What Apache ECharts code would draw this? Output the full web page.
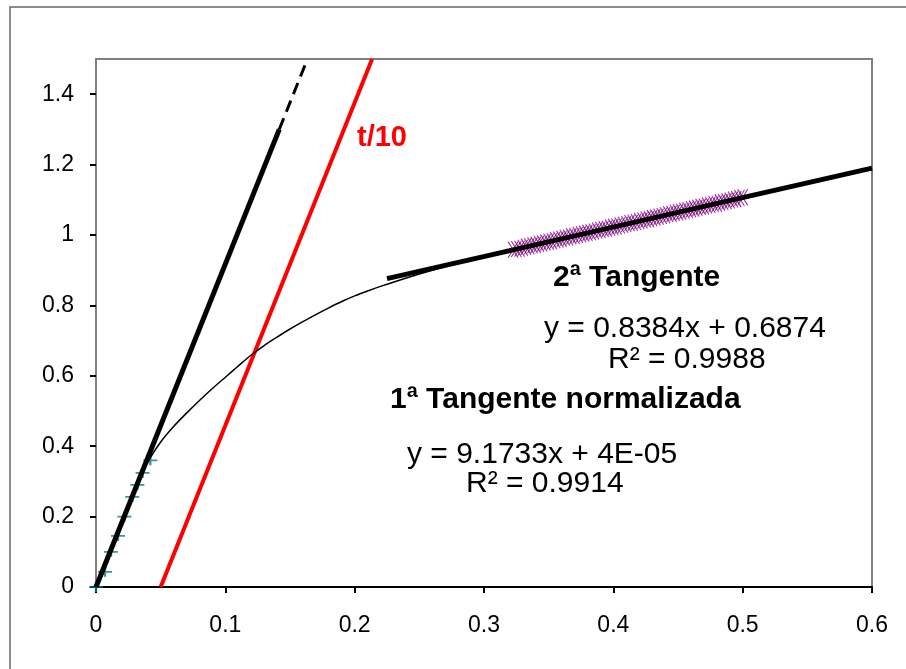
<!DOCTYPE html>
<html>
<head>
<meta charset="utf-8">
<script src="https://cdn.jsdelivr.net/npm/echarts@6/dist/echarts.min.js"></script>
<style>
  html, body { margin: 0; padding: 0; background: #fff; }
  #chart { width: 906px; height: 669px; }
</style>
</head>
<body>
<div id="chart"></div>
<script>
// curva experimental (normalizada)
const curveX = [0, 0.01, 0.02, 0.03, 0.04, 0.05, 0.06, 0.07, 0.08, 0.09, 0.10, 0.11, 0.12, 0.13, 0.14, 0.15, 0.16, 0.17, 0.18, 0.19, 0.20, 0.21, 0.22, 0.24, 0.26, 0.28, 0.30, 0.35, 0.40, 0.45, 0.50];
const curveY = [0, 0.092, 0.183, 0.272, 0.354, 0.412, 0.456, 0.494, 0.530, 0.564, 0.596, 0.628, 0.659, 0.686, 0.710, 0.733, 0.754, 0.774, 0.793, 0.811, 0.827, 0.841, 0.854, 0.878, 0.900, 0.920, 0.938, 0.980, 1.022, 1.065, 1.107];

// pontos usados na 1a tangente
const pts1X = [0, 0.007, 0.0116, 0.017, 0.022, 0.028, 0.032, 0.036, 0.042];
const pts1Y = [0, 0.043, 0.100, 0.145, 0.200, 0.256, 0.290, 0.324, 0.360];

// pontos usados na 2a tangente
const pts2X = [0.3225, 0.325, 0.3275, 0.33, 0.3325, 0.335, 0.3375, 0.34, 0.3425, 0.345, 0.3475, 0.35, 0.3525, 0.355, 0.3575, 0.36, 0.3625, 0.365, 0.3675, 0.37, 0.3725, 0.375, 0.3775, 0.38, 0.3825, 0.385, 0.3875, 0.39, 0.3925, 0.395, 0.3975, 0.40, 0.4025, 0.405, 0.4075, 0.41, 0.4125, 0.415, 0.4175, 0.42, 0.4225, 0.425, 0.4275, 0.43, 0.4325, 0.435, 0.4375, 0.44, 0.4425, 0.445, 0.4475, 0.45, 0.4525, 0.455, 0.4575, 0.46, 0.4625, 0.465, 0.4675, 0.47, 0.4725, 0.475, 0.4775, 0.48, 0.4825, 0.485, 0.4875, 0.49, 0.4925, 0.495, 0.4975, 0.50];
const pts2Y = [0.958, 0.960, 0.961, 0.964, 0.967, 0.968, 0.971, 0.972, 0.975, 0.976, 0.979, 0.981, 0.982, 0.986, 0.987, 0.989, 0.992, 0.993, 0.996, 0.997, 1.000, 1.002, 1.004, 1.006, 1.008, 1.010, 1.013, 1.014, 1.017, 1.018, 1.021, 1.023, 1.024, 1.027, 1.029, 1.031, 1.034, 1.035, 1.037, 1.040, 1.041, 1.044, 1.045, 1.048, 1.050, 1.052, 1.054, 1.056, 1.059, 1.060, 1.063, 1.065, 1.066, 1.069, 1.071, 1.073, 1.075, 1.077, 1.080, 1.081, 1.084, 1.085, 1.088, 1.089, 1.092, 1.094, 1.096, 1.098, 1.101, 1.102, 1.105, 1.107];

// retas
const tan1X = [0, 0.1417];
const tan1Y = [0, 1.30];
const tan1DashX = [0.1417, 0.1635];
const tan1DashY = [1.30, 1.50];
const tan2X = [0.225, 0.6];
const tan2Y = [0.876, 1.190];
const t10X = [0.05, 0.2135];
const t10Y = [0, 1.50];

const xTicks = { min: 0, max: 0.6, interval: 0.1 };
const yTicks = { min: 0, max: 1.5, interval: 0.2 };

function pairs(xs, ys) {
  return xs.map((x, i) => [x, ys[i]]);
}

const font = "'Liberation Sans', Arial, sans-serif";
const chart = echarts.init(document.getElementById('chart'));

const option = {
  animation: false,
  backgroundColor: '#fff',
  grid: {
    left: 96, right: 34, top: 59, bottom: 82,
    show: true, borderColor: '#808080', borderWidth: 2, backgroundColor: 'transparent'
  },
  xAxis: {
    type: 'value',
    min: xTicks.min, max: xTicks.max, interval: xTicks.interval,
    splitLine: { show: false },
    axisLine: { onZero: false, lineStyle: { color: '#000', width: 2 } },
    axisTick: { show: true, length: 6, lineStyle: { color: '#000', width: 2 } },
    axisLabel: { color: '#000', fontSize: 23, fontFamily: font, margin: 27 }
  },
  yAxis: {
    type: 'value',
    min: yTicks.min, max: yTicks.max, interval: yTicks.interval,
    splitLine: { show: false },
    axisLine: { onZero: false, lineStyle: { color: '#808080', width: 2 } },
    axisTick: { show: true, length: 6, lineStyle: { color: '#000', width: 2 } },
    axisLabel: { color: '#000', fontSize: 23, fontFamily: font, margin: 22, showMaxLabel: false }
  },
  series: [
    {
      // pontos da 1a tangente (+)
      type: 'scatter', z: 2,
      data: pairs(pts1X, pts1Y),
      symbol: 'path://M0,5L14,5M7,0L7,10',
      symbolSize: [14, 10],
      itemStyle: { color: 'none', borderColor: '#008080', borderWidth: 2 }
    },
    {
      // pontos da 2a tangente (*)
      type: 'scatter', z: 2,
      data: pairs(pts2X, pts2Y),
      symbol: 'path://M0,0L10,16M10,0L0,16',
      symbolSize: [10, 16],
      itemStyle: { color: 'none', borderColor: '#800080', borderWidth: 1.2 }
    },
    {
      type: 'line', z: 3,
      data: pairs(t10X, t10Y),
      showSymbol: false,
      lineStyle: { color: '#ff0000', width: 4 }
    },
    {
      type: 'line', z: 4,
      data: pairs(curveX, curveY),
      showSymbol: false, smooth: 0.3,
      lineStyle: { color: '#000', width: 1.5 }
    },
    {
      type: 'line', z: 5,
      data: pairs(tan1X, tan1Y),
      showSymbol: false,
      lineStyle: { color: '#000', width: 5 }
    },
    {
      type: 'line', z: 5,
      data: pairs(tan1DashX, tan1DashY),
      showSymbol: false,
      lineStyle: { color: '#000', width: 3, type: [12, 7] }
    },
    {
      type: 'line', z: 5,
      data: pairs(tan2X, tan2Y),
      showSymbol: false,
      lineStyle: { color: '#000', width: 5 }
    }
  ],
  graphic: [
    {
      type: 'rect', silent: true, z: -1,
      shape: { x: 10, y: 7, width: 1000, height: 1000 },
      style: { fill: 'none', stroke: '#666', lineWidth: 1.5 }
    },
    { type: 'text', left: 357, top: 123, style: { text: 't/10', fill: '#ff0000', font: 'bold 29px ' + font } },
    { type: 'text', left: 553, top: 263, style: { text: '2ª Tangente', fill: '#000', font: 'bold 30px ' + font } },
    { type: 'text', left: 544, top: 314, style: { text: 'y = 0.8384x + 0.6874', fill: '#000', font: '30px ' + font } },
    { type: 'text', left: 608, top: 345, style: { text: 'R² = 0.9988', fill: '#000', font: '30px ' + font } },
    { type: 'text', left: 390, top: 385, style: { text: '1ª Tangente normalizada', fill: '#000', font: 'bold 30px ' + font } },
    { type: 'text', left: 407, top: 440, style: { text: 'y = 9.1733x + 4E-05', fill: '#000', font: '30px ' + font } },
    { type: 'text', left: 466, top: 469, style: { text: 'R² = 0.9914', fill: '#000', font: '30px ' + font } }
  ]
};

chart.setOption(option);
window.addEventListener('resize', () => chart.resize());
</script>
</body>
</html>
